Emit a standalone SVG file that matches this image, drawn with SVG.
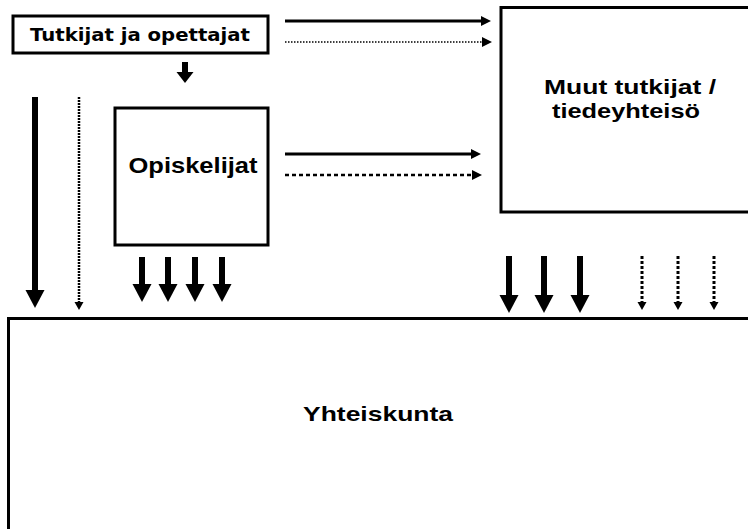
<svg xmlns="http://www.w3.org/2000/svg" width="748" height="529" viewBox="0 0 748 529">
<style>
.box{fill:#fff;stroke:#000;stroke-width:3}
.lbl{font-family:"Liberation Sans",Arial,sans-serif;font-weight:bold;fill:#000;text-anchor:middle}
.lbl2{font-family:"DejaVu Sans",Verdana,sans-serif;font-weight:bold;fill:#000;text-anchor:middle}
.thick{stroke:#000;stroke-width:6;fill:none}
.solid{stroke:#000;stroke-width:3;fill:none}
.dotfine{stroke:#000;stroke-width:1.5;stroke-dasharray:1.5 1.5;fill:none}
.dotmed{stroke:#000;stroke-width:2.5;stroke-dasharray:4 3;fill:none}
.dotv{stroke:#000;stroke-width:2.5;stroke-dasharray:2 1;fill:none}
.dotv2{stroke:#000;stroke-width:3;stroke-dasharray:3 2;fill:none}
</style>
<defs>
<marker id="hBig" markerUnits="userSpaceOnUse" markerWidth="19" markerHeight="20" refX="0" refY="9.5" orient="auto" overflow="visible"><path d="M0,0 L18,9.5 L0,19 Z" fill="#000"/></marker>
<marker id="hMid" markerUnits="userSpaceOnUse" markerWidth="17" markerHeight="17" refX="0" refY="8.5" orient="auto" overflow="visible"><path d="M0,0 L11,8.5 L0,17 Z" fill="#000"/></marker>
<marker id="hSide" markerUnits="userSpaceOnUse" markerWidth="11" markerHeight="11" refX="0" refY="5" orient="auto" overflow="visible"><path d="M0,0 L10,5 L0,10 Z" fill="#000"/></marker>
<marker id="hSmall" markerUnits="userSpaceOnUse" markerWidth="9" markerHeight="9" refX="0" refY="4.5" orient="auto" overflow="visible"><path d="M0,0 L8,4.5 L0,9 Z" fill="#000"/></marker>
</defs>
<g id="yhteiskunta">
<rect class="box" x="8.5" y="318.5" width="760" height="230"/>
<text class="lbl" x="378" y="421" font-size="21" textLength="150" lengthAdjust="spacingAndGlyphs">Yhteiskunta</text>
</g>
<g id="muut">
<rect class="box" x="501" y="7.5" width="260" height="204.5"/>
<text class="lbl" x="630" y="94" font-size="21" textLength="172" lengthAdjust="spacingAndGlyphs">Muut tutkijat /</text>
<text class="lbl" x="626" y="118" font-size="21" textLength="148" lengthAdjust="spacingAndGlyphs">tiedeyhteisö</text>
</g>
<g id="tutkijat">
<rect class="box" x="13" y="16" width="255" height="37"/>
<text class="lbl2" x="140" y="41" font-size="17.5" textLength="220" lengthAdjust="spacingAndGlyphs">Tutkijat ja opettajat</text>
</g>
<g id="opiskelijat">
<rect class="box" x="115" y="108" width="153" height="137"/>
<text class="lbl" x="193" y="173" font-size="22" textLength="129" lengthAdjust="spacingAndGlyphs">Opiskelijat</text>
</g>
<g id="connectors">
<line class="thick" x1="185" y1="62" x2="185" y2="72" marker-end="url(#hMid)"/>
<line class="solid" x1="285" y1="21" x2="481" y2="21" marker-end="url(#hSide)"/>
<line class="dotfine" x1="285" y1="42" x2="482" y2="42" marker-end="url(#hSide)"/>
<line class="solid" x1="285" y1="154" x2="471" y2="154" marker-end="url(#hSide)"/>
<line class="dotmed" x1="285" y1="175" x2="472" y2="175" marker-end="url(#hSide)"/>
<line class="thick" x1="35" y1="97" x2="35" y2="290" marker-end="url(#hBig)"/>
<line class="dotv" x1="79" y1="97" x2="79" y2="302" marker-end="url(#hSmall)"/>
<line class="thick" x1="142" y1="257" x2="142" y2="284" marker-end="url(#hBig)"/>
<line class="thick" x1="168" y1="257" x2="168" y2="284" marker-end="url(#hBig)"/>
<line class="thick" x1="195" y1="257" x2="195" y2="284" marker-end="url(#hBig)"/>
<line class="thick" x1="222" y1="257" x2="222" y2="284" marker-end="url(#hBig)"/>
<line class="thick" x1="509" y1="256" x2="509" y2="295" marker-end="url(#hBig)"/>
<line class="thick" x1="544" y1="256" x2="544" y2="295" marker-end="url(#hBig)"/>
<line class="thick" x1="580" y1="256" x2="580" y2="295" marker-end="url(#hBig)"/>
<line class="dotv2" x1="642" y1="256" x2="642" y2="302" marker-end="url(#hSmall)"/>
<line class="dotv2" x1="678" y1="256" x2="678" y2="302" marker-end="url(#hSmall)"/>
<line class="dotv2" x1="714" y1="256" x2="714" y2="302" marker-end="url(#hSmall)"/>
</g>
</svg>
